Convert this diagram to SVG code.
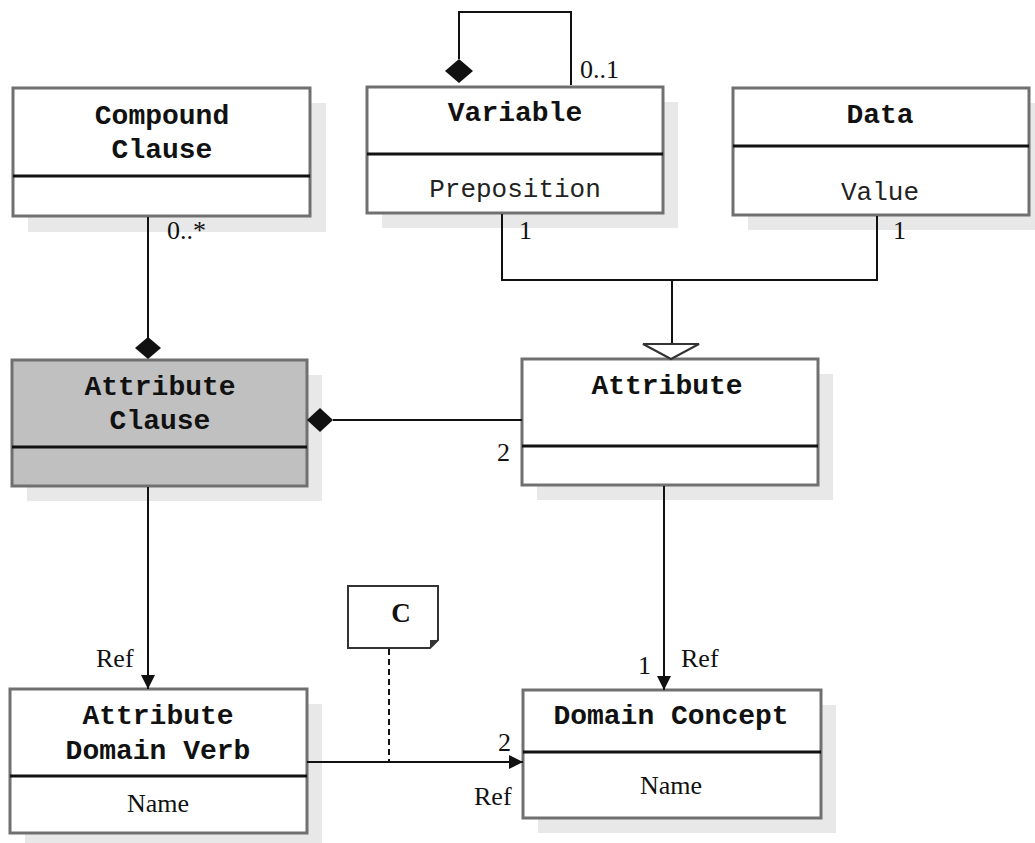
<svg xmlns="http://www.w3.org/2000/svg" width="1035" height="843" viewBox="0 0 1035 843">
<defs>
<style>
.shadow{fill:#e8e8e8;stroke:none}
.box{fill:#fff;stroke:#707070;stroke-width:3}
.gbox{fill:#c0c0c0;stroke:#707070;stroke-width:3}
.div{stroke:#111;stroke-width:3}
.title{font-family:"Liberation Mono","Courier New",monospace;font-weight:bold;font-size:28px;fill:#111;text-anchor:middle}
.attr{font-family:"Liberation Mono","Courier New",monospace;font-size:26px;fill:#222;text-anchor:middle}
.serif{font-family:"Liberation Serif","Times New Roman",serif;font-size:26px;fill:#111}
.line{stroke:#111;stroke-width:2;fill:none}
.dash{stroke:#111;stroke-width:2;fill:none;stroke-dasharray:6,4}
</style>
<marker id="arrow" viewBox="0 0 14 14" refX="14" refY="7" markerWidth="14" markerHeight="14" markerUnits="userSpaceOnUse" orient="auto">
<path d="M0,0 L14,7 L0,14 Z" fill="#111"/>
</marker>
</defs>
<rect width="1035" height="843" fill="#fff"/>

<g id="compound-clause">
<rect class="shadow" x="28" y="103" width="298" height="129"/>
<rect class="box" x="13" y="88" width="297" height="128"/>
<line class="div" x1="13" y1="176" x2="310" y2="176"/>
<text class="title" x="162" y="124">Compound</text>
<text class="title" x="162" y="158">Clause</text>
</g>

<g id="variable">
<rect class="shadow" x="382" y="102" width="296" height="126"/>
<rect class="box" x="367" y="87" width="296" height="126"/>
<line class="div" x1="367" y1="154" x2="663" y2="154"/>
<text class="title" x="515" y="121">Variable</text>
<text class="attr" x="515" y="197">Preposition</text>
</g>

<g id="data">
<rect class="shadow" x="748" y="103" width="287" height="127"/>
<rect class="box" x="733" y="88" width="296" height="127"/>
<line class="div" x1="733" y1="146" x2="1029" y2="146"/>
<text class="title" x="880" y="123">Data</text>
<text class="attr" x="880" y="200">Value</text>
</g>

<g id="attribute-clause">
<rect class="shadow" x="27" y="375" width="295" height="126"/>
<rect class="gbox" x="12" y="360" width="295" height="126"/>
<line class="div" x1="12" y1="447" x2="307" y2="447"/>
<text class="title" x="160" y="395">Attribute</text>
<text class="title" x="160" y="429">Clause</text>
</g>

<g id="attribute">
<rect class="shadow" x="537" y="374" width="296" height="126"/>
<rect class="box" x="522" y="359" width="296" height="126"/>
<line class="div" x1="522" y1="446" x2="818" y2="446"/>
<text class="title" x="667" y="394">Attribute</text>
</g>

<g id="attribute-domain-verb">
<rect class="shadow" x="25" y="704" width="297" height="139"/>
<rect class="box" x="10" y="689" width="297" height="144"/>
<line class="div" x1="10" y1="776" x2="307" y2="776"/>
<text class="title" x="158" y="724">Attribute</text>
<text class="title" x="158" y="759">Domain Verb</text>
<text class="serif" x="158" y="812" text-anchor="middle">Name</text>
</g>

<g id="domain-concept">
<rect class="shadow" x="538" y="705" width="298" height="128"/>
<rect class="box" x="523" y="690" width="298" height="128"/>
<line class="div" x1="523" y1="752" x2="821" y2="752"/>
<text class="title" x="671" y="724">Domain Concept</text>
<text class="serif" x="671" y="794" text-anchor="middle">Name</text>
</g>

<g id="note-c">
<path d="M348,586 H438 V640 L430,648 H348 Z" fill="#fff" stroke="#333" stroke-width="2"/>
<path d="M438,640 L430,648 L430,640 Z" fill="#333"/>
<text x="401" y="622" font-family="Liberation Serif, Times New Roman, serif" font-weight="bold" font-size="27" fill="#111" text-anchor="middle">C</text>
</g>

<g id="connectors">
<!-- Variable self-aggregation -->
<polyline class="line" points="459,59 459,12 571,12 571,85"/>
<path d="M459,59 L473,71 L459,83 L445,71 Z" fill="#111"/>
<text class="serif" x="580" y="78" fill="#333">0..1</text>

<!-- Compound Clause to Attribute Clause -->
<line class="line" x1="148" y1="217" x2="148" y2="338"/>
<path d="M148,337 L161,348 L148,359 L135,348 Z" fill="#111"/>
<text class="serif" x="167" y="239" fill="#666">0..*</text>

<!-- Generalization: Variable, Data -> Attribute -->
<polyline class="line" points="502,214 502,280 877,280 877,216"/>
<line class="line" x1="672" y1="280" x2="672" y2="344"/>
<path d="M643,344 L699,344 L671,359 Z" fill="#fff" stroke="#333" stroke-width="2"/>
<text class="serif" x="519" y="239">1</text>
<text class="serif" x="893" y="239">1</text>

<!-- Attribute -> Attribute Clause composition -->
<line class="line" x1="333" y1="420" x2="522" y2="420"/>
<path d="M307,420 L320,408 L333,420 L320,432 Z" fill="#111"/>
<text class="serif" x="497" y="461">2</text>

<!-- Attribute Clause -> Attribute Domain Verb -->
<line class="line" x1="148" y1="487" x2="148" y2="689" marker-end="url(#arrow)"/>
<text class="serif" x="96" y="667">Ref</text>

<!-- Attribute -> Domain Concept -->
<line class="line" x1="664" y1="486" x2="664" y2="690" marker-end="url(#arrow)"/>
<text class="serif" x="638" y="674">1</text>
<text class="serif" x="681" y="667">Ref</text>

<!-- Attribute Domain Verb -> Domain Concept -->
<line class="line" x1="307" y1="762" x2="523" y2="762" marker-end="url(#arrow)"/>
<text class="serif" x="498" y="751">2</text>
<text class="serif" x="474" y="805">Ref</text>

<!-- Note anchor -->
<line class="dash" x1="389" y1="649" x2="389" y2="762"/>
</g>
</svg>
